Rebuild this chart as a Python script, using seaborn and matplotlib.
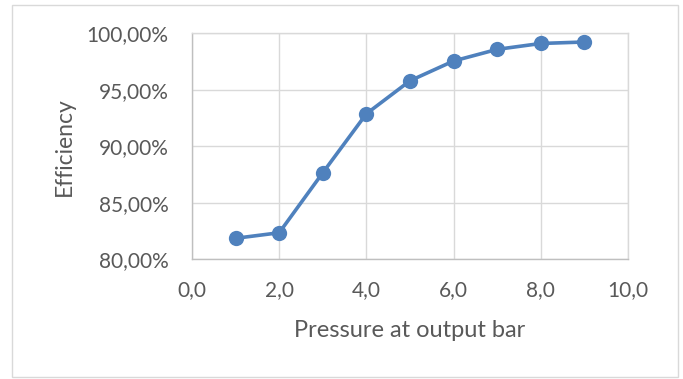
import matplotlib
matplotlib.use("Agg")
import matplotlib.pyplot as plt
import seaborn as sns
import pandas as pd
from matplotlib.patches import Rectangle
from matplotlib.ticker import FuncFormatter, MultipleLocator

pressure = [1, 2, 3, 4, 5, 6, 7, 8, 9]
efficiency = [81.86, 82.35, 87.66, 92.88, 95.80, 97.55, 98.58, 99.10, 99.23]
x_label = "Pressure at output bar"
y_label = "Efficiency"

sns.set_theme(style="white")
plt.rcParams['font.family'] = ['Lato', 'DejaVu Sans']

df = pd.DataFrame({"p": pressure, "e": efficiency})

fig = plt.figure(figsize=(6.83, 3.79), dpi=100)
ax = fig.add_axes([192 / 683, 1 - 259.3 / 379, 436 / 683, 226 / 379])

sns.lineplot(data=df, x="p", y="e", ax=ax, color="#4F81BD", marker="o",
             markersize=11, markeredgewidth=0, linewidth=2.6, zorder=3)

ax.set_xlim(0, 10)
ax.set_ylim(80, 100)
ax.xaxis.set_major_locator(MultipleLocator(2))
ax.yaxis.set_major_locator(MultipleLocator(5))
ax.xaxis.set_major_formatter(FuncFormatter(lambda v, _: f"{v:.1f}".replace(".", ",")))
ax.yaxis.set_major_formatter(FuncFormatter(lambda v, _: f"{v:.2f}%".replace(".", ",")))
ax.grid(True, color="#D9D9D9", linewidth=1.0)
ax.set_axisbelow(True)
for s in ax.spines.values():
    s.set_color("#D9D9D9")
    s.set_linewidth(1.0)
ax.spines["left"].set_color("#BFBFBF")
ax.spines["bottom"].set_color("#BFBFBF")
ax.tick_params(axis="both", length=0, labelsize=15, labelcolor="#595959")
ax.tick_params(axis="x", pad=15)
ax.tick_params(axis="y", pad=17)
ax.set_xlabel(x_label, fontsize=17, color="#595959", labelpad=14)
ax.set_ylabel(y_label, fontsize=16.5, color="#595959", labelpad=8.5)

fig.patches.append(Rectangle((11.5 / 683, 2 / 379), 666 / 683, 372.5 / 379,
                             transform=fig.transFigure, fill=False,
                             edgecolor="#D9D9D9", linewidth=1.0))

fig.savefig("out.png", dpi=100)
